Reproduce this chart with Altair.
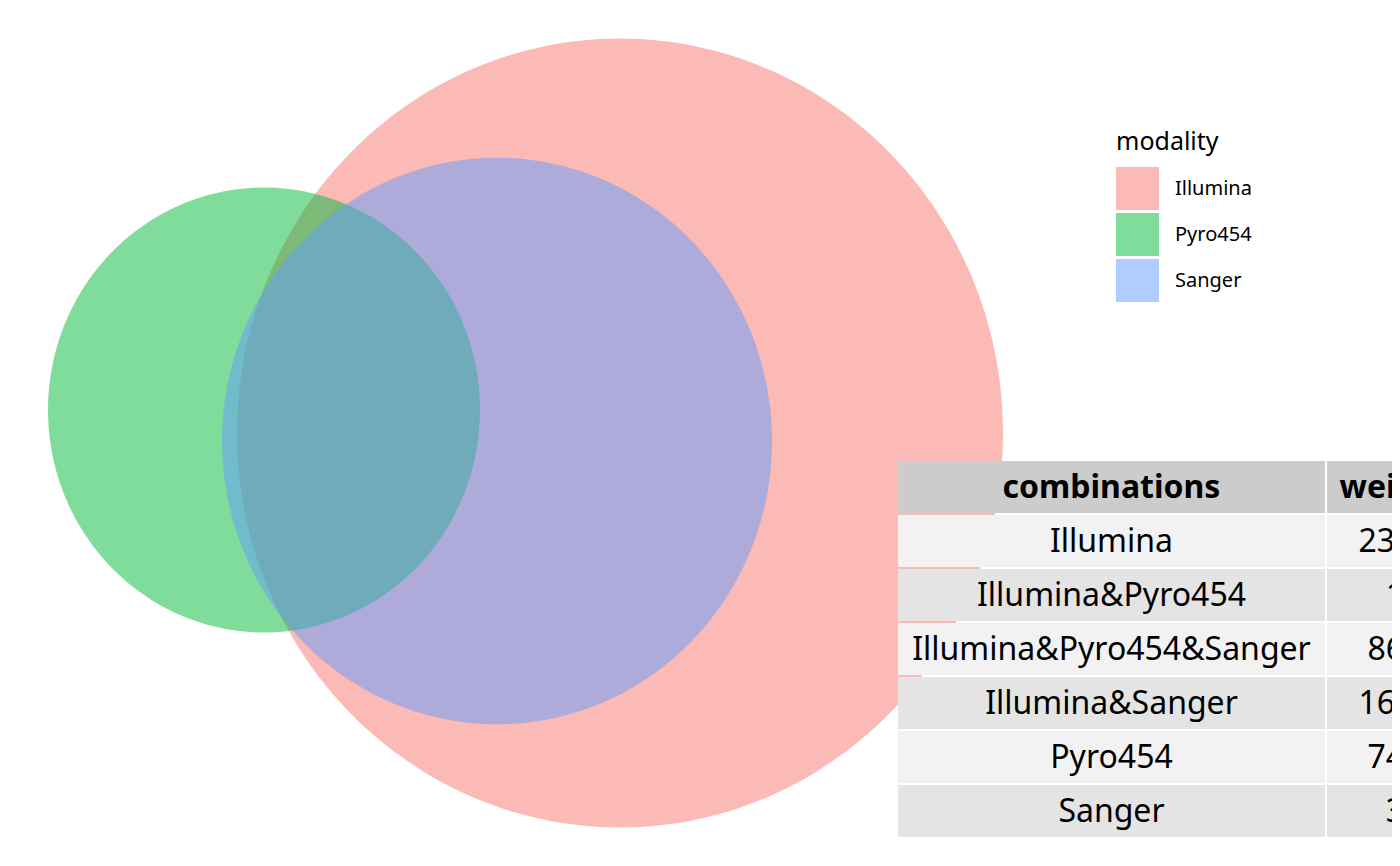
import numpy as np
import pandas as pd
import altair as alt

# sets of the Venn diagram: centre and radius in plot units
modality = ["Illumina", "Pyro454", "Sanger"]
cx = [620, 264, 497]
cy = [433, 410, 441]
radius = [383, 216, 275]
colors = ["#F8766D", "#00BA38", "#619CFF"]

# table shown beside the diagram
combinations = ["Illumina", "Illumina&Pyro454", "Illumina&Pyro454&Sanger",
                "Illumina&Sanger", "Pyro454", "Sanger"]
weight = [2317, 1, 862, 1623, 744, 3]

rows = []
for i, m in enumerate(modality):
    for k, t in enumerate(np.linspace(0, 2 * np.pi, 241)):
        rows.append({"modality": m, "order": k,
                     "x": cx[i] + radius[i] * np.cos(t),
                     "y": cy[i] + radius[i] * 1.03 * np.sin(t)})
circles = pd.DataFrame(rows)

xs = alt.Scale(domain=[8, 1392], nice=False, zero=False)
ys = alt.Scale(domain=[858, 8], nice=False, zero=False)

venn = alt.Chart(circles).mark_line(filled=True, opacity=0.5, strokeWidth=0).encode(
    x=alt.X("x:Q", scale=xs, axis=None),
    y=alt.Y("y:Q", scale=ys, axis=None),
    order="order:Q",
    detail="modality:N",
    color=alt.Color("modality:N", scale=alt.Scale(domain=modality, range=colors),
                    legend=alt.Legend(title="modality", orient="none", legendX=1108, legendY=122,
                                      titleFontSize=25, titleFontWeight="normal", labelFontSize=20,
                                      symbolType="square", symbolSize=1849, symbolOpacity=0.5,
                                      symbolStrokeWidth=0, titleFont="Noto Sans", labelFont="Noto Sans",
                                      rowPadding=3, titlePadding=12, labelOffset=16)),
)

# table cells
header = ["combinations", "weight"]
tab = [{"row": 0, "col": 0, "text": header[0], "fill": "#CCCCCC", "bold": 1},
       {"row": 0, "col": 1, "text": header[1], "fill": "#CCCCCC", "bold": 1}]
for i, (c, w) in enumerate(zip(combinations, weight)):
    f = "#F2F2F2" if i % 2 == 0 else "#E4E4E4"
    tab.append({"row": i + 1, "col": 0, "text": c, "fill": f, "bold": 0})
    tab.append({"row": i + 1, "col": 1, "text": str(w), "fill": f, "bold": 0})
tdf = pd.DataFrame(tab)

base = alt.Chart(tdf).transform_calculate(
    x0="datum.col == 0 ? 898 : 1327",
    x1="datum.col == 0 ? 1325 : 1530",
    y0="461 + 54 * datum.row",
    y1="461 + 54 * datum.row + 52",
    xm="datum.col == 0 ? 1111.5 : 1395",
    ym="461 + 54 * datum.row + 27",
)
cells = base.mark_rect(clip=True).encode(
    x=alt.X("x0:Q", scale=xs), x2="x1:Q",
    y=alt.Y("y0:Q", scale=ys), y2="y1:Q",
    fill=alt.Fill("fill:N", scale=None),
)
txt_plain = base.transform_filter("datum.bold == 0").mark_text(
    fontSize=32, font="Noto Sans", clip=True, color="black").encode(
    x=alt.X("xm:Q", scale=xs), y=alt.Y("ym:Q", scale=ys), text="text:N")
txt_bold = base.transform_filter("datum.bold == 1").mark_text(
    fontSize=32, font="Noto Sans", fontWeight="bold", clip=True, color="black").encode(
    x=alt.X("xm:Q", scale=xs), y=alt.Y("ym:Q", scale=ys), text="text:N")

chart = alt.layer(venn, cells, txt_plain, txt_bold).properties(
    width=1384, height=850, padding=0
).configure_view(stroke=None)

chart.save("out.html", embed_options={"renderer": "svg", "actions": False})
